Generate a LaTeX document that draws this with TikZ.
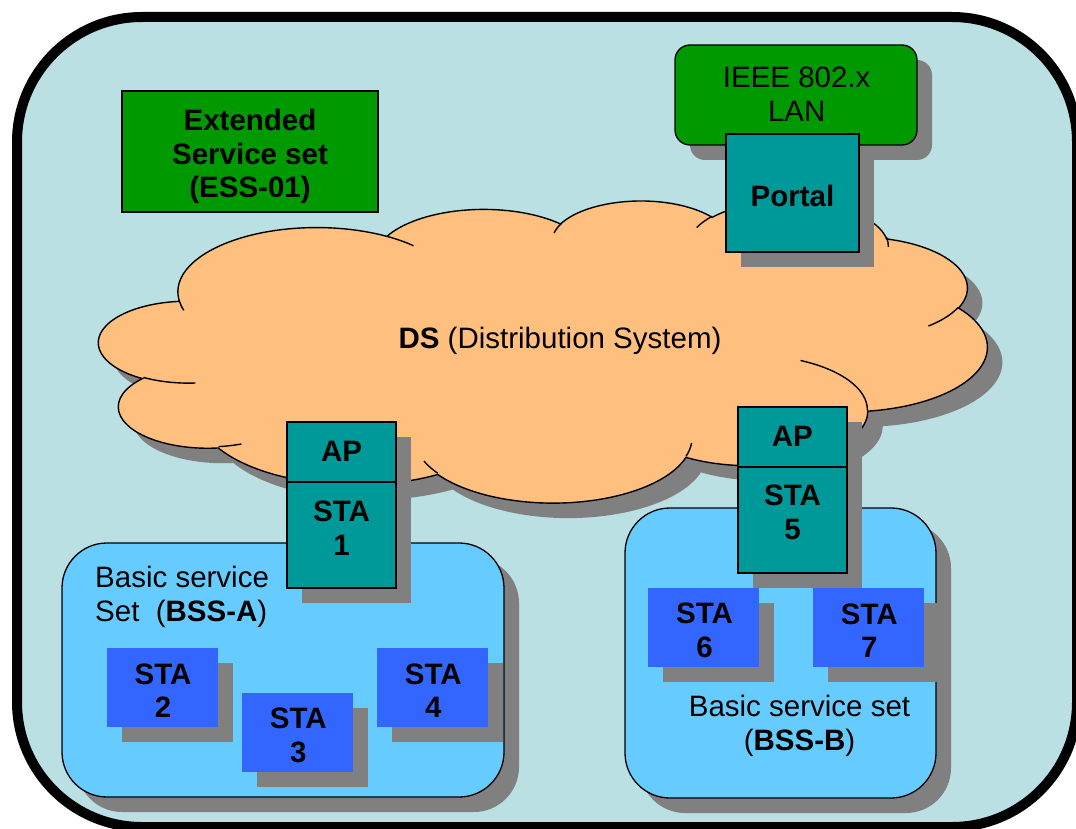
\documentclass[tikz,border=0pt]{standalone}
\usepackage{fontspec}
\setmainfont{Liberation Sans}
\usetikzlibrary{shadows}

\definecolor{framefill}{RGB}{186,224,227}
\definecolor{essgreen}{RGB}{0,153,0}
\definecolor{portteal}{RGB}{0,153,153}
\definecolor{cloudorange}{RGB}{255,191,127}
\definecolor{bsslight}{RGB}{102,204,255}
\definecolor{stablue}{RGB}{51,102,255}
\definecolor{shadowgray}{RGB}{128,128,128}

% Elliptical arc given by radii, start angle and sweep measured along the ray
% from the centre; stores the matching parametric angles as \cld<name>s / \cld<name>e.
\newcommand\cloudarc[5]{%
  \pgfmathsetmacro\cloudtmpa{atan2((#2)*sin(#4),(#3)*cos(#4))}%
  \pgfmathsetmacro\cloudtmpb{atan2((#2)*sin((#4)+(#5)),(#3)*cos((#4)+(#5)))}%
  \pgfmathsetmacro\cloudtmpb{\cloudtmpb+360*((#5)>0)*(\cloudtmpb<\cloudtmpa)-360*((#5)<0)*(\cloudtmpb>\cloudtmpa)}%
  \expandafter\xdef\csname cld#1s\endcsname{\cloudtmpa}%
  \expandafter\xdef\csname cld#1e\endcsname{\cloudtmpb}%
}
% outline lobes
\cloudarc{A}{67.53}{91.90}{-190.48748}{123.78053}
\cloudarc{B}{53.33}{72.67}{-144.10238}{89.94523}
\cloudarc{C}{43.65}{59.45}{-145.80792}{99.72302}
\cloudarc{D}{48.57}{65.95}{-130.98607}{117.24173}
\cloudarc{E}{53.33}{72.73}{-78.70888}{109.02692}
\cloudarc{F}{67.75}{92.20}{-46.26725}{130.26900}
\cloudarc{G}{57.85}{78.67}{0.62502}{114.03333}
\cloudarc{H}{67.52}{92.15}{22.45160}{115.17255}
\cloudarc{I}{77.20}{105.43}{66.24263}{75.71102}
\cloudarc{J}{43.60}{59.18}{-274.94208}{146.73557}
\cloudarc{K}{43.45}{59.45}{-246.82850}{152.51885}
% inner creases
\cloudarc{L}{43.45}{59.45}{86.74200}{26.42950}
\cloudarc{M}{43.60}{59.18}{73.61047}{11.44747}
\cloudarc{N}{67.52}{92.15}{137.62415}{14.08110}
\cloudarc{O}{67.52}{92.15}{6.45327}{15.99835}
\cloudarc{P}{57.85}{78.67}{-70.29235}{70.91737}
\cloudarc{Q}{53.33}{72.73}{30.31803}{27.75150}
\cloudarc{R}{48.57}{65.95}{-13.74433}{14.85890}
\cloudarc{S}{48.57}{65.95}{-149.18145}{18.19537}
\cloudarc{T}{43.65}{59.45}{-163.49427}{17.68635}
\cloudarc{U}{67.53}{91.90}{-66.70695}{12.31935}
\cloudarc{V}{67.53}{91.90}{157.65435}{11.85817}

\def\cloudoutline{(39.00,143.70)
  arc[start angle=\cldAs, end angle=\cldAe, x radius=67.53, y radius=91.90]
  arc[start angle=\cldBs, end angle=\cldBe, x radius=53.33, y radius=72.67]
  arc[start angle=\cldCs, end angle=\cldCe, x radius=43.65, y radius=59.45]
  arc[start angle=\cldDs, end angle=\cldDe, x radius=48.57, y radius=65.95]
  arc[start angle=\cldEs, end angle=\cldEe, x radius=53.33, y radius=72.73]
  arc[start angle=\cldFs, end angle=\cldFe, x radius=67.75, y radius=92.20]
  arc[start angle=\cldGs, end angle=\cldGe, x radius=57.85, y radius=78.67]
  arc[start angle=\cldHs, end angle=\cldHe, x radius=67.52, y radius=92.15]
  arc[start angle=\cldIs, end angle=\cldIe, x radius=77.20, y radius=105.43]
  arc[start angle=\cldJs, end angle=\cldJe, x radius=43.60, y radius=59.18]
  arc[start angle=\cldKs, end angle=\cldKe, x radius=43.45, y radius=59.45]
  -- cycle}

\def\cloudcreases{
  (46.93,261.77) arc[start angle=\cldLs, end angle=\cldLe, x radius=43.45, y radius=59.45]
  (69.28,348.99) arc[start angle=\cldMs, end angle=\cldMe, x radius=43.60, y radius=59.18]
  (164.78,390.90) arc[start angle=\cldNs, end angle=\cldNe, x radius=67.52, y radius=92.15]
  (288.27,347.51) arc[start angle=\cldOs, end angle=\cldOe, x radius=67.52, y radius=92.15]
  (341.29,229.54) arc[start angle=\cldPs, end angle=\cldPe, x radius=57.85, y radius=78.67]
  (417.98,153.54) arc[start angle=\cldQs, end angle=\cldQe, x radius=53.33, y radius=72.73]
  (383.24,54.26) arc[start angle=\cldRs, end angle=\cldRe, x radius=48.57, y radius=65.95]
  (290.78,39.52) arc[start angle=\cldSs, end angle=\cldSe, x radius=48.57, y radius=65.95]
  (221.41,47.20) arc[start angle=\cldTs, end angle=\cldTe, x radius=43.65, y radius=59.45]
  (140.00,51.92) arc[start angle=\cldUs, end angle=\cldUe, x radius=67.53, y radius=91.90]
  (41.27,157.89) arc[start angle=\cldVs, end angle=\cldVe, x radius=67.53, y radius=91.90]}

\begin{document}
\begin{tikzpicture}[x=1pt, y=-1pt,
  every node/.style={inner sep=0pt},
  lbl/.style={font=\fontsize{29.5}{34}\selectfont, align=center},
  boldlbl/.style={font=\fontsize{29.5}{33.5}\selectfont\bfseries, align=center},
  castshadow/.style={drop shadow={shadow xshift=15pt, shadow yshift=-15pt, fill=shadowgray, opacity=1}},
  essbox/.style={rectangle, draw=black, line width=1.2pt, fill=essgreen},
  lanbox/.style={rectangle, rounded corners=15pt, draw=black, line width=1.3pt, fill=essgreen, castshadow},
  tealbox/.style={rectangle, draw=black, line width=1.3pt, fill=portteal, castshadow},
  bssbox/.style={rectangle, rounded corners=45pt, draw=black, line width=1.3pt, fill=bsslight, castshadow},
  stabox/.style={rectangle, fill=stablue, minimum width=111pt, minimum height=79pt, castshadow},
  cloudline/.style={draw=black, line width=1.4pt}]

\path[use as bounding box] (0,0) rectangle (1076,829);
\clip (0,0) rectangle (1076,829);
\fill[white] (0,0) rectangle (1076,829);

% outer frame of the extended service set
\draw[line width=10pt, fill=framefill, rounded corners=125pt] (17,17) rectangle (1077,827);

% ESS title box
\node[essbox, minimum width=256pt, minimum height=121pt] (ess) at (250,151.5) {};
\node[boldlbl] (ess-text) at (250,156.4) {Extended\\Service set\\(ESS-01)};

% distribution system cloud
\begin{scope}[shift={(114,215)}, x=2.055556pt, y=-0.699074pt]
  \fill[shadowgray] \cloudoutline;
\end{scope}
\begin{scope}[shift={(99,200)}, x=2.055556pt, y=-0.699074pt]
  \path[fill=cloudorange, cloudline] \cloudoutline;
  \path[cloudline] \cloudcreases;
\end{scope}
\node[lbl, anchor=base] (ds-text) at (560,348.3) {\textbf{DS} (Distribution System)};

% wired LAN and portal
\node[lanbox, minimum width=242pt, minimum height=100pt] (lan) at (796,95) {};
\node[lbl] (lan-text) at (796.7,94) {IEEE 802.x\\LAN};
\node[tealbox, minimum width=133pt, minimum height=118pt] (portal) at (792.5,193) {};
\node[boldlbl, anchor=base] (portal-text) at (792.5,206.7) {Portal};

% basic service sets
\node[bssbox, minimum width=442pt, minimum height=254pt] (bssa) at (283,670) {};
\node[lbl, align=left, anchor=west] (bssa-text) at (95,596.5) {Basic service\\Set\ \ (\textbf{BSS-A})};
\node[bssbox, minimum width=311pt, minimum height=290pt] (bssb) at (780.5,653) {};
\node[lbl] (bssb-text) at (799.5,725.5) {Basic service set\\(\textbf{BSS-B})};

% access points
\node[tealbox, minimum width=109pt, minimum height=60pt] (ap1) at (341.5,452) {};
\node[tealbox, minimum width=109pt, minimum height=106pt] (sta1) at (341.5,535) {};
\node[boldlbl, anchor=base] (ap1-text) at (341.5,461.7) {AP};
\node[boldlbl] (sta1-text) at (341.5,528) {STA\\1};

\node[tealbox, minimum width=109pt, minimum height=60pt] (ap5) at (792.5,437) {};
\node[tealbox, minimum width=109pt, minimum height=106pt] (sta5) at (792.5,520) {};
\node[boldlbl, anchor=base] (ap5-text) at (792.3,446) {AP};
\node[boldlbl] (sta5-text) at (792.5,512.3) {STA\\5};

% stations
\node[stabox] (sta2) at (162.5,687.5) {};
\node[boldlbl] (sta2-text) at (163,690.5) {STA\\2};
\node[stabox] (sta3) at (297.5,732.5) {};
\node[boldlbl] (sta3-text) at (298.3,735.3) {STA\\3};
\node[stabox] (sta4) at (432.5,687.5) {};
\node[boldlbl] (sta4-text) at (433.3,690.5) {STA\\4};
\node[stabox] (sta6) at (703.5,627.5) {};
\node[boldlbl] (sta6-text) at (704.5,630.5) {STA\\6};
\node[stabox] (sta7) at (868.5,627.5) {};
\node[boldlbl] (sta7-text) at (869.3,630.5) {STA\\7};
\end{tikzpicture}
\end{document}
